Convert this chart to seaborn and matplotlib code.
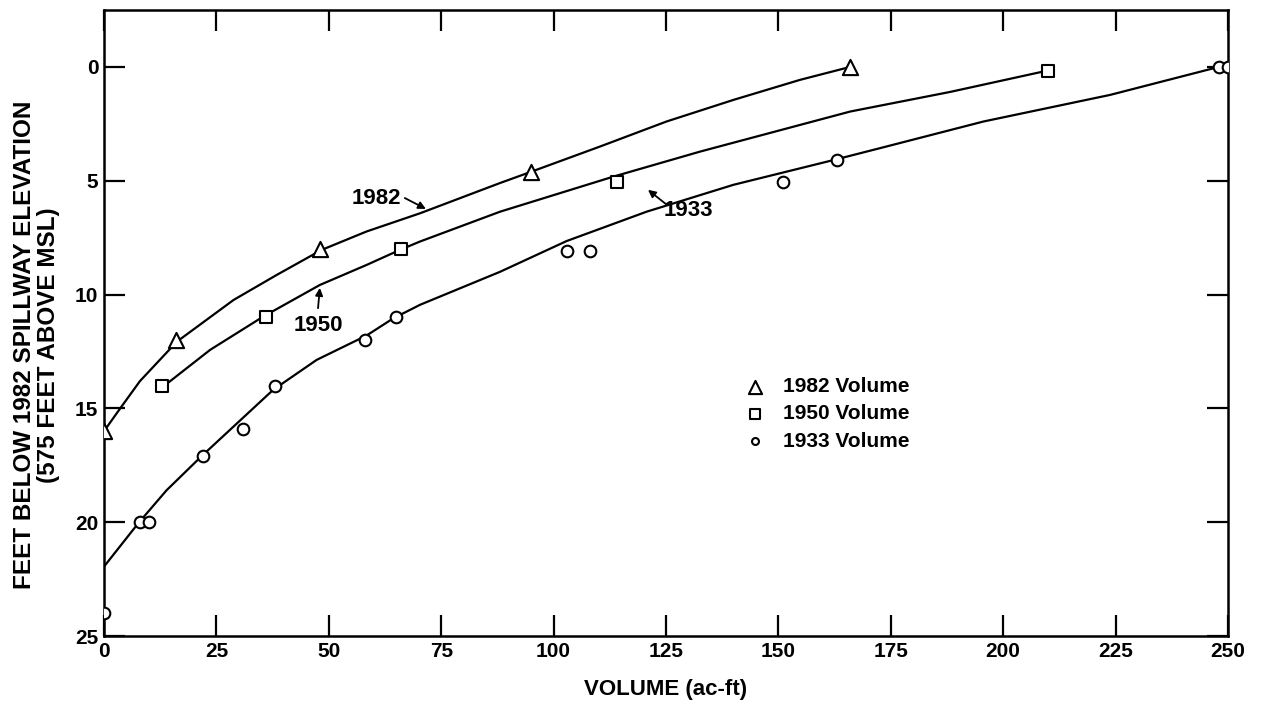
import seaborn as sns
import pandas as pd
import matplotlib.pyplot as plt

# measured points (volume ac-ft, feet below 1982 spillway)
vol_1982 = [0, 16, 48, 95, 166]
ft_1982 = [16, 12, 8, 4.6, 0]
vol_1950 = [13, 36, 66, 114, 210]
ft_1950 = [14, 11, 8, 5.05, 0.2]
vol_1933 = [0, 8, 10, 22, 31, 38, 58, 65, 103, 108, 151, 163, 248, 250]
ft_1933 = [24, 20, 20, 17.1, 15.9, 14, 12, 11, 8.1, 8.1, 5.05, 4.1, 0, 0]

# hand-drawn fitted curves
curve_x_1982 = [0, 3.6, 8, 16.2, 28.8, 38.4, 48.4, 58.4, 70.3, 88.1, 95.1,
                110.3, 125.1, 140, 154.8, 166]
curve_y_1982 = [16, 15.0, 13.8, 12.07, 10.24, 9.14, 8.04, 7.23, 6.43, 5.1,
                4.6, 3.5, 2.4, 1.45, 0.57, 0]
curve_x_1950 = [12.8, 23.6, 35.4, 48, 58.4, 65.8, 70.3, 88.1, 113.3, 132.6,
                154.8, 166, 188.2, 209]
curve_y_1950 = [14.1, 12.43, 10.97, 9.58, 8.70, 8.04, 7.67, 6.36, 4.82, 3.72,
                2.55, 1.96, 1.1, 0.2]
curve_x_1933 = [0, 7.6, 13.9, 21.7, 37.6, 47.3, 58.4, 64.3, 70.3, 88.1,
                102.9, 120.7, 140, 162.3, 172.6, 195.6, 223.8, 247]
curve_y_1933 = [21.95, 20.05, 18.6, 17.1, 14.19, 12.87, 11.8, 11.05, 10.45,
                9.0, 7.65, 6.36, 5.18, 4.09, 3.57, 2.4, 1.23, 0.05]

# curve labels: text position, arrow tail, arrow tip
labels = ['1982', '1950', '1933']
label_xy = [(60.5, 5.76), (47.6, 11.38), (129.9, 6.33)]
arrow_tail = [(66.9, 5.76), (47.6, 10.6), (125.2, 6.06)]
arrow_tip = [(71.6, 6.24), (48.0, 9.71), (121.0, 5.4)]

sns.set_style("ticks")
plt.rcParams['font.family'] = ['Liberation Sans', 'DejaVu Sans']
plt.rcParams.update({'font.weight': 'bold', 'text.color': 'black',
                     'axes.labelcolor': 'black', 'xtick.color': 'black',
                     'ytick.color': 'black', 'axes.edgecolor': 'black'})

fig = plt.figure(figsize=(12.61, 7.03), dpi=100)
ax = fig.add_axes([0.0825, 0.0953, 0.8913, 0.8905])

for cx, cy in [(curve_x_1982, curve_y_1982), (curve_x_1950, curve_y_1950),
               (curve_x_1933, curve_y_1933)]:
    sns.lineplot(x=cx, y=cy, ax=ax, color='black', lw=1.6, sort=False,
                 estimator=None, zorder=2)

pts = [(vol_1982, ft_1982, '^', 120, '1982 Volume'),
       (vol_1950, ft_1950, 's', 70, '1950 Volume'),
       (vol_1933, ft_1933, 'o', 70, '1933 Volume')]
for vx, vy, m, s, lab in pts:
    sns.scatterplot(x=vx, y=vy, ax=ax, marker=m, s=s, facecolor='white',
                    edgecolor='black', linewidth=1.5, zorder=3, label=lab)

ax.set_xlim(0, 250)
ax.set_ylim(25, -2.5)
ax.set_xticks(range(0, 251, 25))
ax.set_yticks(range(0, 26, 5))
ax.tick_params(direction='in', length=15, width=1.6, top=True, right=True,
               labelsize=15, pad=4)
for sp in ax.spines.values():
    sp.set_linewidth(1.8)

ax.set_xlabel('VOLUME (ac-ft)', fontsize=16, fontweight='bold', labelpad=13)
ax.set_ylabel('FEET BELOW 1982 SPILLWAY ELEVATION\n(575 FEET ABOVE MSL)',
              fontsize=17.5, fontweight='bold', linespacing=1.05)
ax.yaxis.set_label_coords(-0.039, 0.465)

arrow = dict(arrowstyle='-|>', color='black', lw=1.3, mutation_scale=11,
             shrinkA=0, shrinkB=0)
for lab, xy, tail, tip in zip(labels, label_xy, arrow_tail, arrow_tip):
    ax.text(xy[0], xy[1], lab, fontsize=16, ha='center', va='center')
    ax.annotate('', xy=tip, xytext=tail, arrowprops=arrow)

leg = ax.legend(loc='upper left', bbox_to_anchor=(0.5534, 0.427),
                frameon=False, fontsize=15, handletextpad=0.34,
                labelspacing=0.4, borderaxespad=0)
for h, sz in zip(leg.legend_handles, [90, 60, 25]):
    h.set_sizes([sz])

fig.savefig('out.png', dpi=100)
